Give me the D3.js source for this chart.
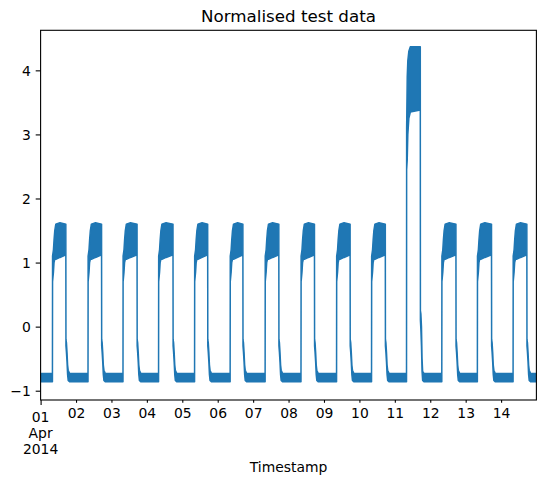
<!DOCTYPE html>
<html>
<head>
<meta charset="utf-8">
<script src="https://cdn.jsdelivr.net/npm/d3@7"></script>
<style>
  body { margin: 0; background: #fff; }
  text { font-family: "DejaVu Sans", sans-serif; fill: #000; }
</style>
</head>
<body>
<div id="container"></div>
<script>
// Data --------------------------------- ---------- ----------
let days = ["2014-04-01","2014-04-02","2014-04-03","2014-04-04","2014-04-05","2014-04-06","2014-04-07",
            "2014-04-08","2014-04-09","2014-04-10","2014-04-11","2014-04-12","2014-04-13","2014-04-14"];
let lastStamp = "2014-04-14T23:55:00Z";
let riseHour = [8.1, 8.2, 7.9, 8.0, 8.4, 8.5, 8.2, 8.5, 8.6, 8.3, 8.0, 7.9, 8.0, 8.2];
let fallHour = [17.1, 17.3, 17.35, 17.7, 17.2, 17.05, 17.4, 17.55, 17.7, 17.55, 17.25, 17.4, 17.5, 17.45];
let jumpDay = "2014-04-11";
let nightBand = [-0.86, -0.73];              // low, high of the night level

// working hours, hours after the rise
let dayHours = [0, 0.6, 1.0, 1.5, 2.2, 5];
let dayLow   = [0.7, 0.85, 1.0, 1.05, 1.05, 1.08];
let dayHigh  = [1.1, 1.2, 1.35, 1.5, 1.6, 1.62];
let dayEnd   = [1.12, 1.6];
// after the fall, hours after the fall
let decayHours = [0.08, 0.4, 0.8, 1.2, 1.6, 2.5];
let decayLow   = [-0.3, -0.4, -0.55, -0.75, -0.84, -0.86];
let decayHigh  = [-0.2, -0.25, -0.4, -0.6, -0.68, -0.73];
// the jump day
let jumpHours = [0, 0.4, 0.8, 1.5, 2.5];
let jumpLow   = [2.45, 2.6, 3.0, 3.25, 3.35];
let jumpHigh  = [3.1, 3.9, 4.15, 4.3, 4.37];
let jumpEnd   = [3.38, 4.37];
let jumpDecayLow  = [0.1, -0.05, -0.3, -0.7, -0.84, -0.86];
let jumpDecayHigh = [0.25, 0.2, 0.0, -0.5, -0.7, -0.73];

let yTicks = [-1, 0, 1, 2, 3, 4];

// Hard Code values ---------- ---------- ----------
let canvasW = 546, canvasH = 485;
let padL = 40.6, padR = 536.4, padT = 30.3, padB = 400;
let blue = "#1f77b4";
let hour = 3600e3;

// Build the envelope series ---------- ---------- ----------
let series = [];
let firstDay = Date.parse(days[0] + "T00:00:00Z");
series.push({t: firstDay, lo: nightBand[0], hi: nightBand[1]});
days.forEach((d, i) => {
    let t0 = Date.parse(d + "T00:00:00Z");
    let jump = d === jumpDay;
    let hrs = jump ? jumpHours : dayHours;
    let lows = jump ? jumpLow : dayLow, highs = jump ? jumpHigh : dayHigh;
    let end = jump ? jumpEnd : dayEnd;
    let dLo = jump ? jumpDecayLow : decayLow, dHi = jump ? jumpDecayHigh : decayHigh;
    series.push({t: t0 + (riseHour[i] - 0.08) * hour, lo: nightBand[0], hi: nightBand[1]});
    hrs.forEach((h, k) => series.push({t: t0 + (riseHour[i] + h) * hour, lo: lows[k], hi: highs[k]}));
    series.push({t: t0 + fallHour[i] * hour, lo: end[0], hi: end[1]});
    decayHours.forEach((h, k) => series.push({t: t0 + (fallHour[i] + h) * hour, lo: dLo[k], hi: dHi[k]}));
});
series.push({t: Date.parse(lastStamp), lo: nightBand[0], hi: nightBand[1]});

// Scales ---------- ---------- ----------
let x = d3.scaleUtc().domain([firstDay, Date.parse(lastStamp)]).range([padL, padR]);
let y = d3.scaleLinear().domain([-1.145, 4.625]).range([padB, padT]);

let svg = d3.select("#container").append("svg")
    .attr("width", canvasW).attr("height", canvasH);

svg.append("clipPath").attr("id", "clip")
    .append("rect").attr("x", padL).attr("y", padT)
    .attr("width", padR - padL).attr("height", padB - padT);

// Series ---------- ---------- ----------
let area = d3.area()
    .x(d => x(d.t)).y0(d => y(d.lo)).y1(d => y(d.hi));
svg.append("path").datum(series)
    .attr("clip-path", "url(#clip)")
    .attr("d", area)
    .attr("fill", blue).attr("stroke", blue)
    .attr("stroke-width", 1.5).attr("stroke-linejoin", "round");

// Axes ---------- ---------- ----------
let yAxis = svg.append("g").attr("transform", "translate(" + padL + ",0)")
    .call(d3.axisLeft(y).tickValues(yTicks).tickSize(4.9).tickPadding(4.9)
        .tickFormat(d => d < 0 ? "\u2212" + Math.abs(d) : d));
yAxis.select(".domain").remove();
yAxis.selectAll("line").attr("stroke", "#000").attr("stroke-width", 1.1);
yAxis.selectAll("text").attr("font-size", "13.9px").attr("font-family", "DejaVu Sans")
    .attr("dy", "0.36em");

let dayTicks = days.map(d => Date.parse(d + "T00:00:00Z"));
let xAxis = svg.append("g").attr("transform", "translate(0," + padB + ")")
    .call(d3.axisBottom(x).tickValues(dayTicks)
        .tickSizeInner(2.8).tickSizeOuter(0).tickPadding(4.9)
        .tickFormat((d, i) => i === 0 ? "" : d3.utcFormat("%d")(d)));
xAxis.select(".domain").remove();
xAxis.selectAll("line").attr("stroke", "#000").attr("stroke-width", 1.1);
xAxis.select(".tick line").attr("y2", 4.9);
xAxis.selectAll("text").attr("font-size", "13.9px").attr("font-family", "DejaVu Sans")
    .attr("dy", null).attr("y", 18);

// First tick label on three lines
let firstLabel = ["01", "Apr", "2014"];
svg.selectAll(".firstLabel").data(firstLabel).enter().append("text")
    .attr("class", "firstLabel")
    .attr("x", x(firstDay)).attr("y", (d, i) => 421.5 + i * 16)
    .attr("text-anchor", "middle").attr("font-size", "13.9px")
    .text(d => d);

// Frame ---------- ---------- ----------
svg.append("rect")
    .attr("x", padL).attr("y", padT)
    .attr("width", padR - padL).attr("height", padB - padT)
    .attr("fill", "none").attr("stroke", "#000").attr("stroke-width", 1.1);

// Titles ---------- ---------- ----------
svg.append("text").attr("x", (padL + padR) / 2).attr("y", 22)
    .attr("text-anchor", "middle").attr("font-size", "16.7px")
    .text("Normalised test data");
svg.append("text").attr("x", (padL + padR) / 2).attr("y", 472)
    .attr("text-anchor", "middle").attr("font-size", "13.9px")
    .text("Timestamp");
</script>
</body>
</html>
